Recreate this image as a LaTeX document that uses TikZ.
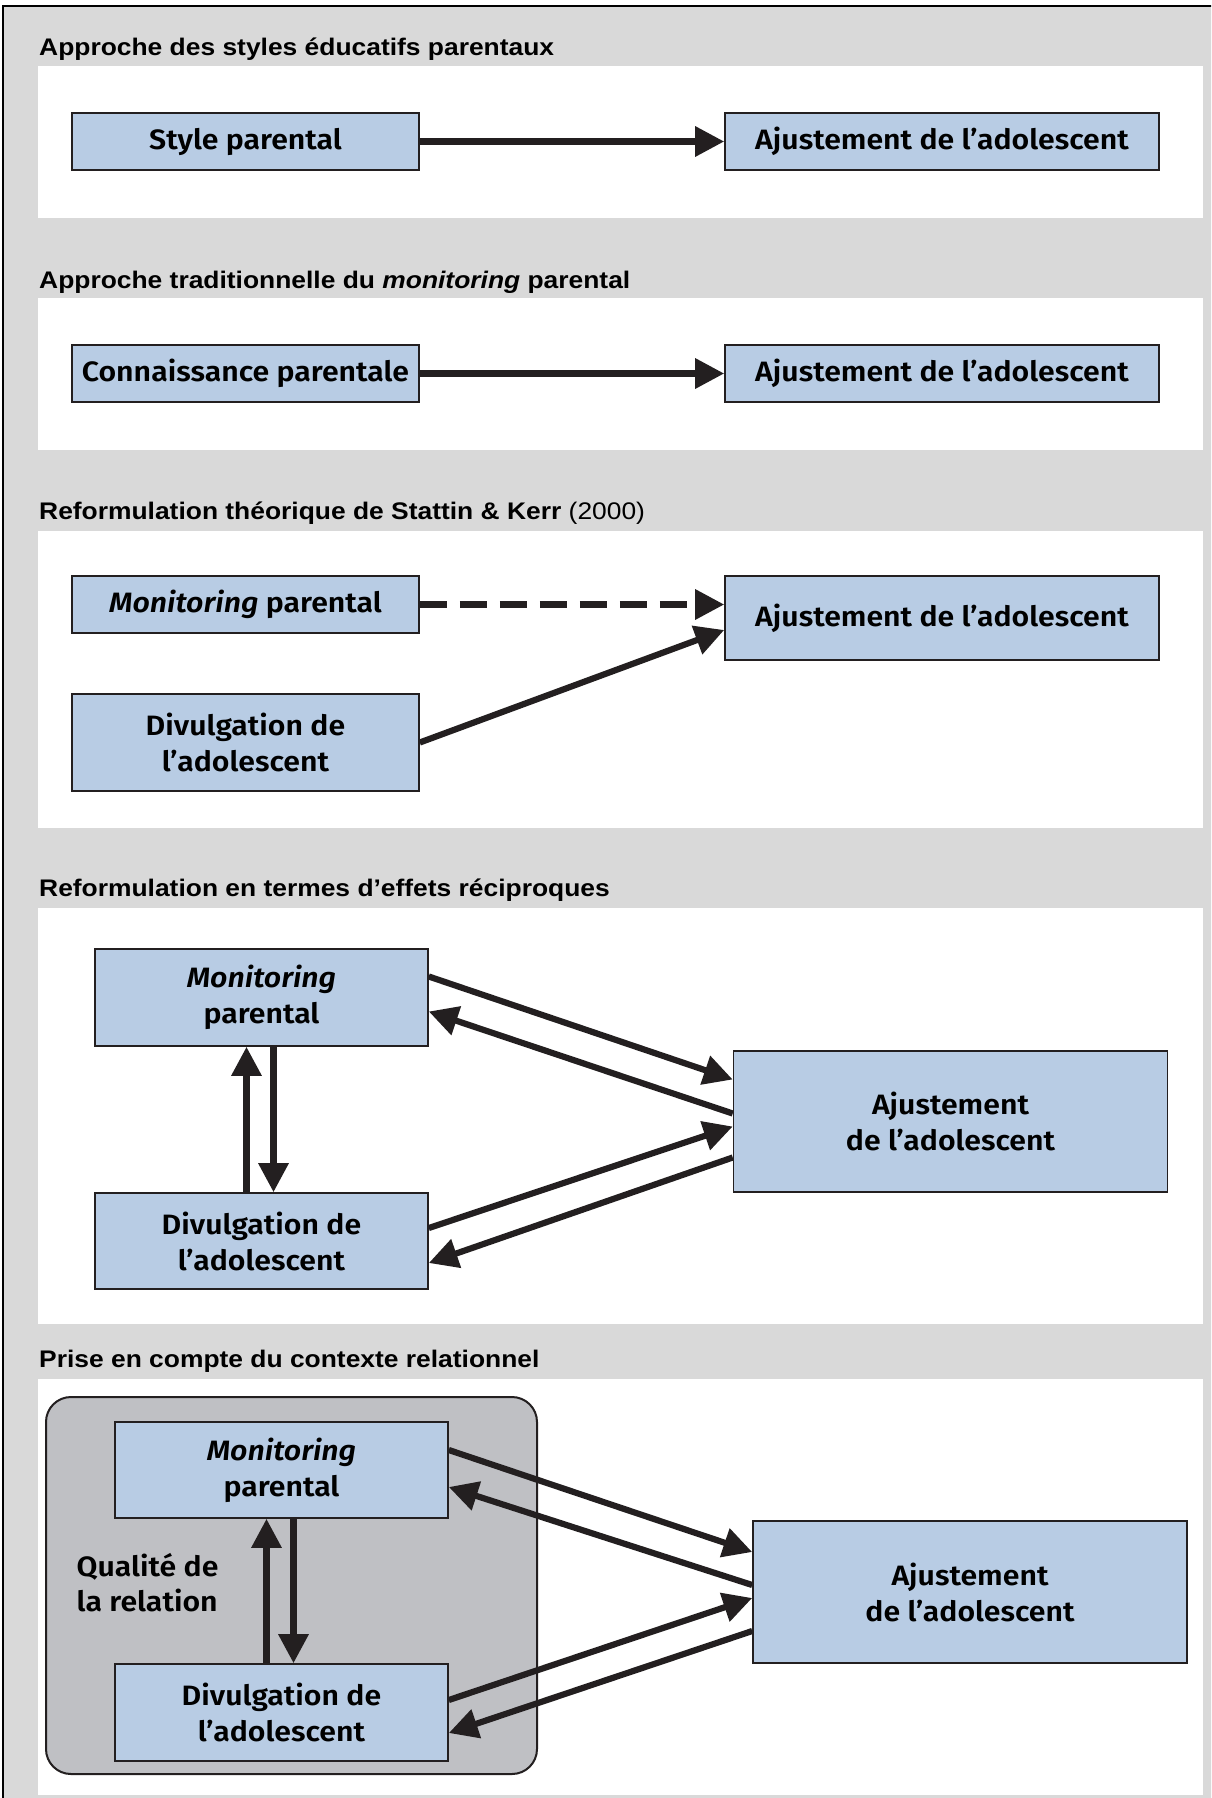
\documentclass[tikz,border=0pt]{standalone}
\usepackage{fontspec}
\setmainfont{Liberation Sans}
\newfontfamily\titlefont{Liberation Sans}[FakeStretch=1.1]
\newfontfamily\boxfont{Fira Sans}[FakeStretch=1.08, BoldFont={Fira Sans SemiBold}, BoldItalicFont={Fira Sans SemiBold Italic}]
\usetikzlibrary{arrows.meta,calc}
\definecolor{bggray}{HTML}{D9D9D9}
\definecolor{boxblue}{HTML}{B8CCE4}
\definecolor{ctxgray}{HTML}{BFC0C4}
\definecolor{ink}{HTML}{231F20}
\begin{document}
\begin{tikzpicture}[x=1pt,y=-1pt,
  paneltitle/.style={anchor=base west, inner sep=0pt, text=black, font=\titlefont\fontsize{24}{28}\selectfont\bfseries},
  whitepanel/.style={fill=white},
  box/.style={draw=ink, line width=1.6pt, fill=boxblue, inner sep=0pt, align=center, text=black, font=\boxfont\fontsize{28}{36}\selectfont\bfseries},
  lbox/.style={box, minimum width=347pt},
  rbox/.style={box, minimum width=434pt},
  mbox/.style={box, minimum width=333pt},
  arr/.style={draw=ink, line width=6.2pt, -{Triangle[length=29pt,width=29pt]}},
]
\useasboundingbox (0,0) rectangle (1211,1798);
\clip (0,0) rectangle (1211,1798);
\fill[white] (0,0) rectangle (1211,1798);
\draw[fill=bggray, draw=black, line width=2pt] (3,6) rectangle (1240,1830);

% white panels
\fill[whitepanel] (37.5,66) rectangle (1203,218);
\fill[whitepanel] (37.5,298) rectangle (1203,450);
\fill[whitepanel] (37.5,531) rectangle (1203,828);
\fill[whitepanel] (37.5,908) rectangle (1203,1324);
\fill[whitepanel] (37.5,1379) rectangle (1203,1795);

% titles
\node[paneltitle] (t1) at (39,56) {Approche des styles éducatifs parentaux};
\node[paneltitle] (t2) at (39,288) {Approche traditionnelle du \textit{monitoring} parental};
\node[paneltitle] (t3) at (39,519) {Reformulation théorique de Stattin \& Kerr {\mdseries (2000)}};
\node[paneltitle] (t4) at (39,896) {Reformulation en termes d’effets réciproques};
\node[paneltitle] (t5) at (39,1367) {Prise en compte du contexte relationnel};

% panel 1
\node[lbox, minimum height=57pt] (sp) at (245.5,141.5) {Style parental};
\node[rbox, minimum height=57pt] (aj1) at (942,141.5) {Ajustement de l’adolescent};
\draw[arr] (sp) -- (aj1);

% panel 2
\node[lbox, minimum height=57pt] (cp) at (245.5,373.5) {Connaissance parentale};
\node[rbox, minimum height=57pt] (aj2) at (942,373.5) {Ajustement de l’adolescent};
\draw[arr] (cp) -- (aj2);

% panel 3
\node[lbox, minimum height=57pt] (mp3) at (245.5,604.5) {\textit{Monitoring} parental};
\node[lbox, minimum height=97pt] (dv3) at (245.5,742.5) {Divulgation de\\l’adolescent};
\node[rbox, minimum height=84pt] (aj3) at (942,618) {Ajustement de l’adolescent};
\draw[arr, dash pattern=on 27pt off 13pt] (mp3.east) -- (aj3.west |- mp3.east);
\draw[arr] (dv3.east) -- ($(aj3.west)+(0,12)$);

% panel 4
\node[mbox, minimum height=97pt] (mp4) at (261.5,997.5) {\textit{Monitoring}\\parental};
\node[mbox, minimum height=96pt] (dv4) at (261.5,1241) {Divulgation de\\l’adolescent};
\node[rbox, minimum height=141pt] (aj4) at (950.5,1121.5) {Ajustement\\de l’adolescent};
\draw[arr] ($(mp4.east)+(0,-21)$) -- ($(aj4.west)+(0,-42)$);
\draw[arr] ($(aj4.west)+(0,-8)$) -- ($(mp4.east)+(0,14)$);
\draw[arr] ($(dv4.east)+(0,-13)$) -- ($(aj4.west)+(0,5)$);
\draw[arr] ($(aj4.west)+(0,36)$) -- ($(dv4.east)+(0,22)$);
\draw[arr] ($(dv4.north)+(-15,0)$) -- ($(mp4.south)+(-15,0)$);
\draw[arr] ($(mp4.south)+(12,0)$) -- ($(dv4.north)+(12,0)$);

% panel 5
\draw[fill=ctxgray, draw=ink, line width=2pt, rounded corners=25pt] (46,1397) rectangle (537,1774);
\node[mbox, minimum height=96pt] (mp5) at (281.5,1470) {\textit{Monitoring}\\parental};
\node[mbox, minimum height=97pt] (dv5) at (281.5,1712.5) {Divulgation de\\l’adolescent};
\node[rbox, minimum height=142pt] (aj5) at (970,1592) {Ajustement\\de l’adolescent};
\node[anchor=west, align=left, inner sep=0pt, text=black, font=\boxfont\fontsize{28}{35}\selectfont\bfseries] (qr) at (76.5,1583) {Qualité de\\la relation};
\draw[arr] ($(mp5.east)+(0,-20)$) -- ($(aj5.west)+(0,-40)$);
\draw[arr] ($(aj5.west)+(0,-7)$) -- ($(mp5.east)+(0,17)$);
\draw[arr] ($(dv5.east)+(0,-12.5)$) -- ($(aj5.west)+(0,6)$);
\draw[arr] ($(aj5.west)+(0,39)$) -- ($(dv5.east)+(0,20.5)$);
\draw[arr] ($(dv5.north)+(-15,0)$) -- ($(mp5.south)+(-15,0)$);
\draw[arr] ($(mp5.south)+(12,0)$) -- ($(dv5.north)+(12,0)$);
\end{tikzpicture}
\end{document}
